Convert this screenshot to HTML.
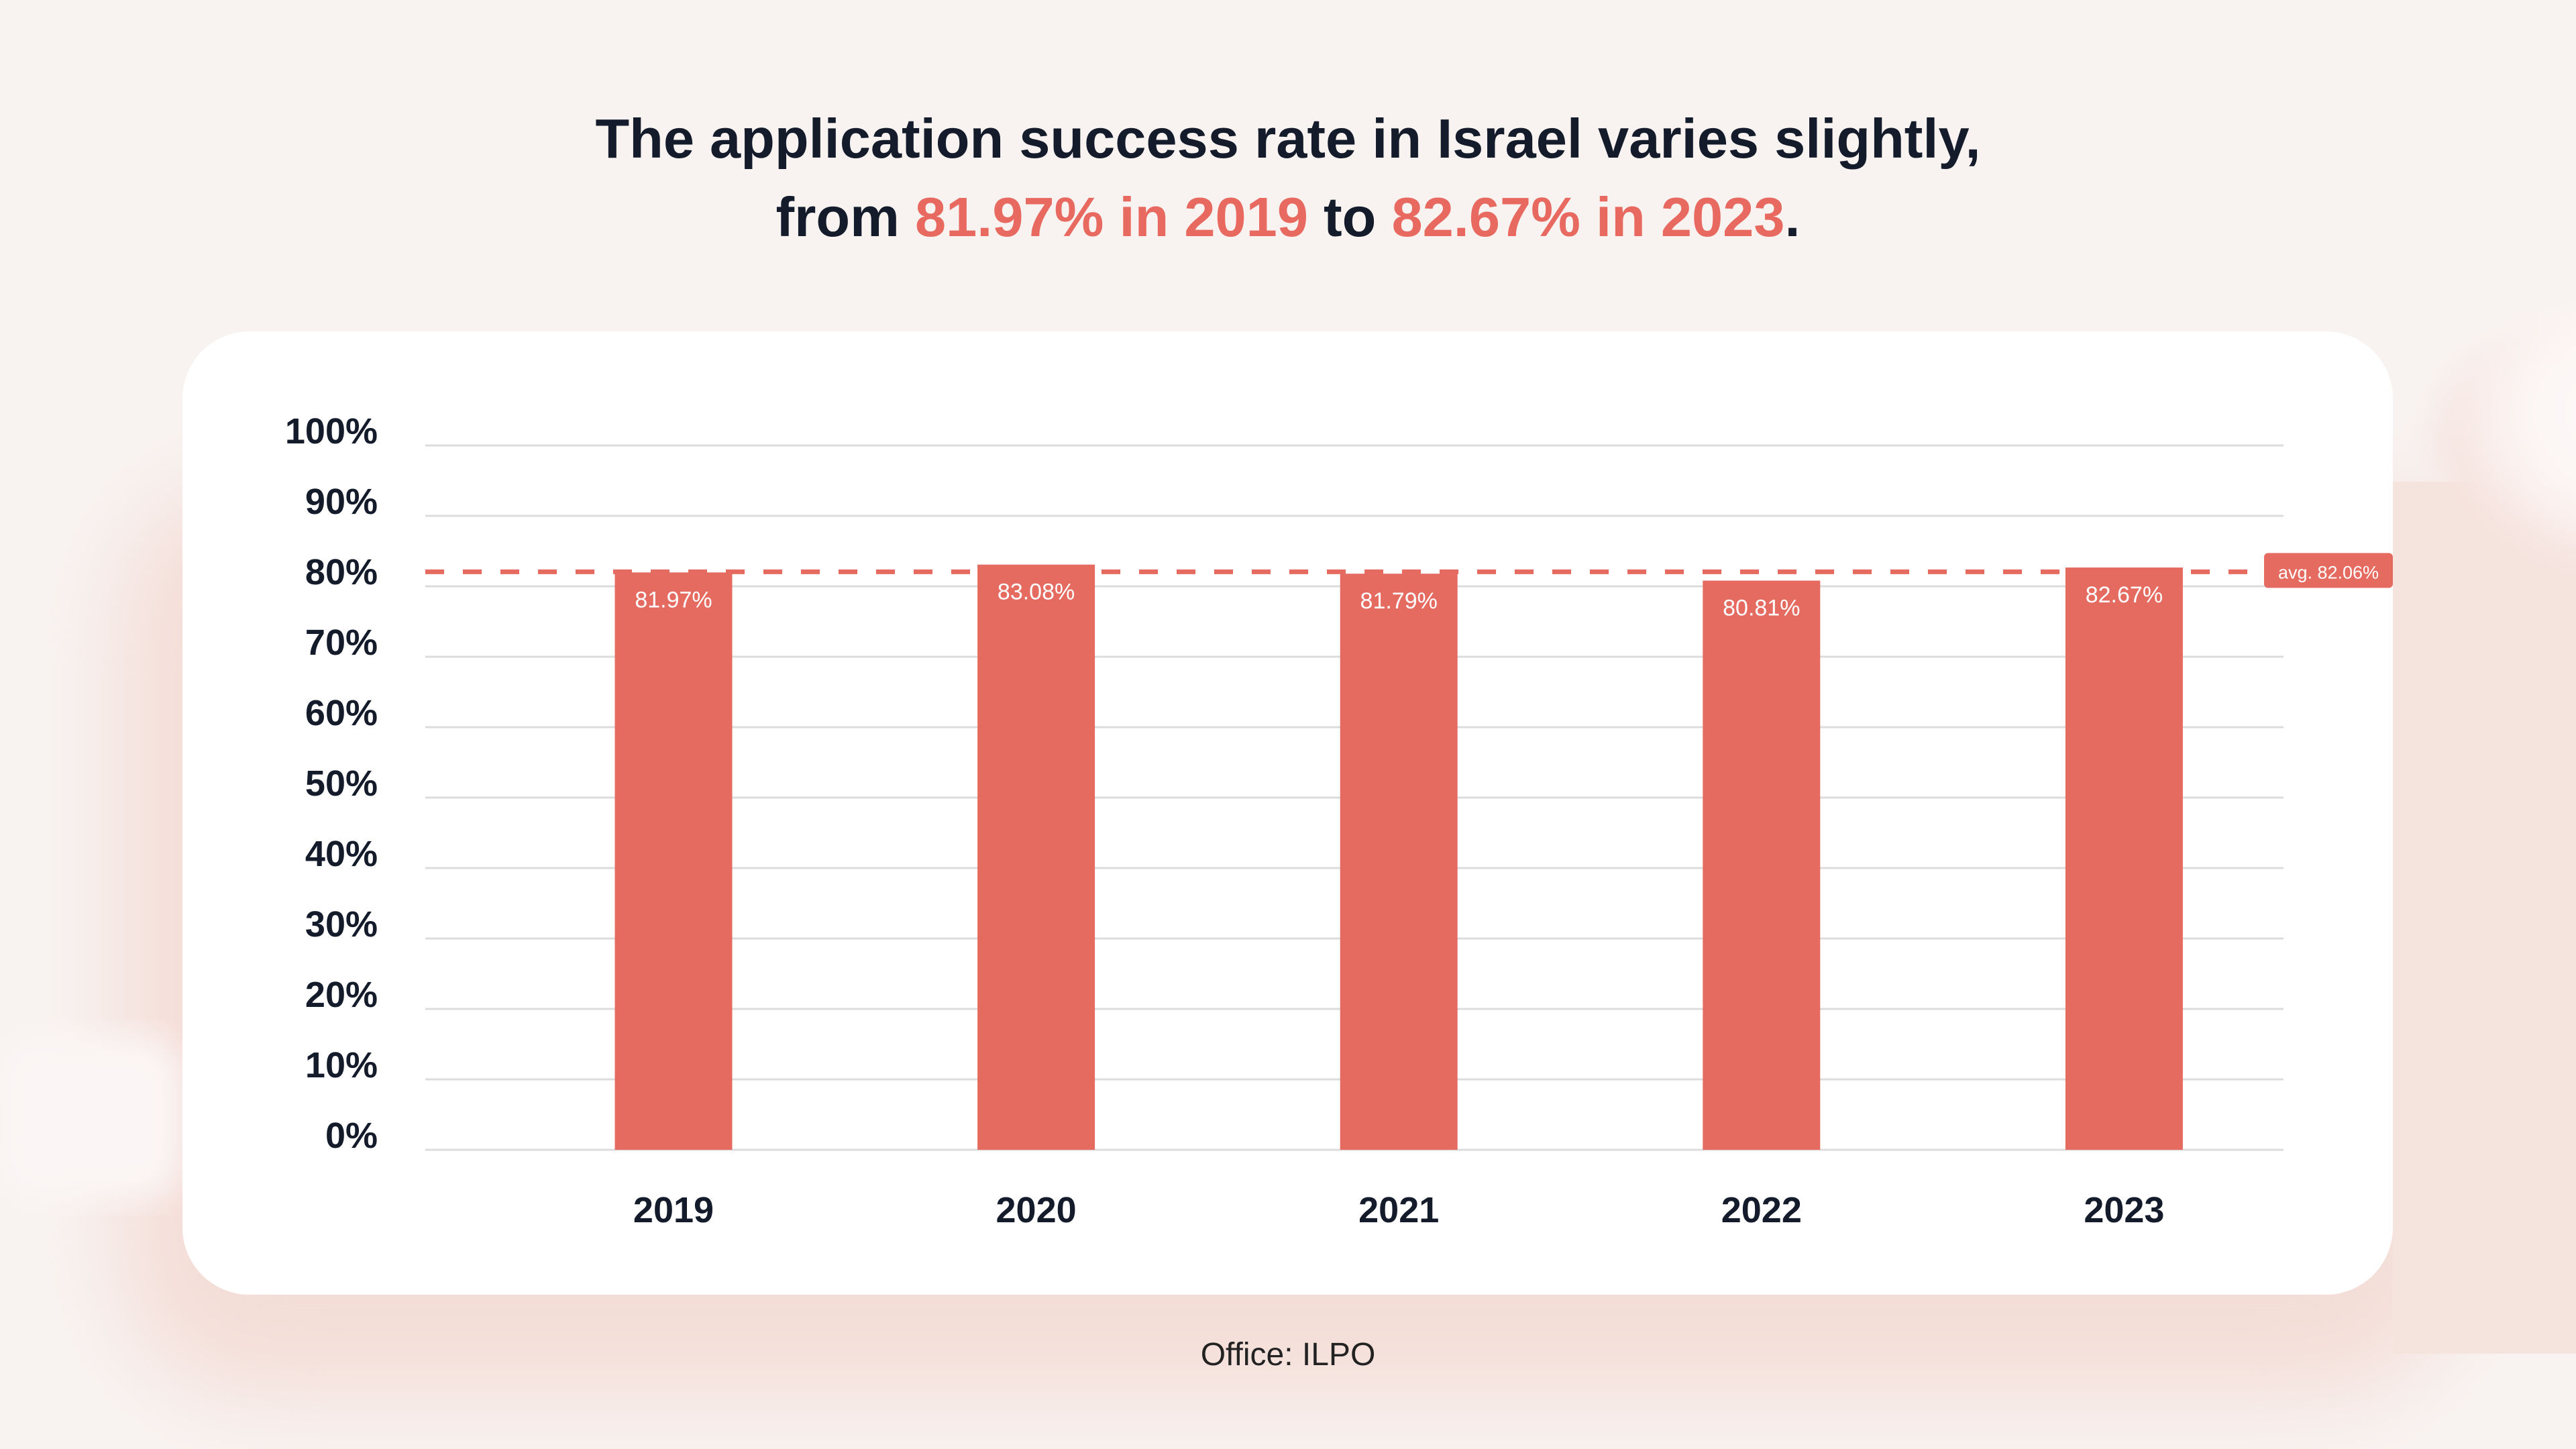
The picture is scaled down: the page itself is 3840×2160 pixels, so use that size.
<!DOCTYPE html>
<html><head><meta charset="utf-8">
<style>
html,body{margin:0;padding:0;width:3840px;height:2160px;overflow:hidden;background:#f8f3f1;font-family:"Liberation Sans",sans-serif;}
</style></head>
<body>
<svg width="3840" height="2160" viewBox="0 0 3840 2160" xmlns="http://www.w3.org/2000/svg">
<defs>
<filter id="blur"><feGaussianBlur stdDeviation="70"/></filter>
<filter id="blur2"><feGaussianBlur stdDeviation="25"/></filter>
<radialGradient id="blobg" cx="70%" cy="40%" r="70%">
<stop offset="0%" stop-color="#ffffff"/>
<stop offset="70%" stop-color="#fbf3f1"/>
<stop offset="100%" stop-color="#f5e1dc"/>
</radialGradient>
</defs>
<rect x="0" y="0" width="3840" height="2160" fill="#f8f3f1"/>
<rect x="180" y="720" width="3480" height="1360" rx="200" fill="#f4ddd7" filter="url(#blur)"/>
<rect x="3567" y="718" width="273" height="1300" fill="#f5e3de"/>
<ellipse cx="3870" cy="650" rx="240" ry="180" fill="url(#blobg)" filter="url(#blur2)"/>
<rect x="0" y="1545" width="272" height="243" fill="#fbf6f5" rx="60" filter="url(#blur2)"/>
<rect x="272" y="494" width="3295" height="1436" rx="100" fill="#ffffff"/>
<text x="1920" y="235" text-anchor="middle" font-size="83" font-weight="bold" fill="#141b2b">The application success rate in Israel varies slightly,</text>
<text x="1920" y="352" text-anchor="middle" font-size="83" font-weight="bold" fill="#141b2b">from <tspan fill="#e8695f">81.97% in 2019</tspan> to <tspan fill="#e8695f">82.67% in 2023</tspan>.</text>
<g id="grid"></g>
<g id="bars"></g>
<g id="avg"></g>
<text x="1920" y="2035" text-anchor="middle" font-size="48" fill="#222">Office: ILPO</text>
</svg>
<script>
const categories = ["2019","2020","2021","2022","2023"];
const values = [81.97, 83.08, 81.79, 80.81, 82.67];
const valueLabels = ["81.97%","83.08%","81.79%","80.81%","82.67%"];
const yTicks = [0,10,20,30,40,50,60,70,80,90,100];
const avgValue = 82.06;

const NS = "http://www.w3.org/2000/svg";
const plotL = 634, plotR = 3404, plotTop = 664, plotBot = 1714;
const firstX = 1004, stepX = 540.6, barW = 175;
function y(v){ return plotBot - (v/100)*(plotBot-plotTop); }
function x(i){ return firstX + i*stepX; }
function mk(tag, attrs, parent){ const e=document.createElementNS(NS,tag); for(const k in attrs) e.setAttribute(k,attrs[k]); parent.appendChild(e); return e; }

const grid = document.getElementById('grid');
yTicks.forEach(t=>{
  const l = mk('line',{x1:plotL,x2:plotR,y1:y(t),y2:y(t),stroke:'#dcdcdc','stroke-width':3},grid);
  
  
  const tx = mk('text',{x:563,y:y(t)-3,'text-anchor':'end','font-size':54,'font-weight':'bold',fill:'#141b2b'},grid);
  tx.textContent = t+'%';
  
  
});

const bars = document.getElementById('bars');
categories.forEach((c,i)=>{
  const top = y(values[i]);
  const r = mk('rect',{x:x(i)-barW/2,y:top,width:barW,height:plotBot-top,fill:'#e56b61'},bars);
  
  
  const vl = mk('text',{x:x(i),y:top+52,'text-anchor':'middle','font-size':34,fill:'#ffffff'},bars);
  vl.textContent = valueLabels[i];
  
  
  const xl = mk('text',{x:x(i),y:1822,'text-anchor':'middle','font-size':54,'font-weight':'bold',fill:'#141b2b'},bars);
  xl.textContent = c;
  
  
});

const avg = document.getElementById('avg');
const ay = y(avgValue);
const al = mk('line',{x1:plotL,x2:3375,y1:ay,y2:ay,stroke:'#e56b61','stroke-width':7,'stroke-dasharray':'28 28'},avg);


const ab = mk('rect',{x:3375,y:ay-28,width:192,height:52,rx:6,fill:'#e56b61'},avg);


const at = mk('text',{x:3471,y:ay+10,'text-anchor':'middle','font-size':27,fill:'#ffffff'},avg);
at.textContent = 'avg. ' + avgValue.toFixed(2) + '%';


</script>
</body></html>
